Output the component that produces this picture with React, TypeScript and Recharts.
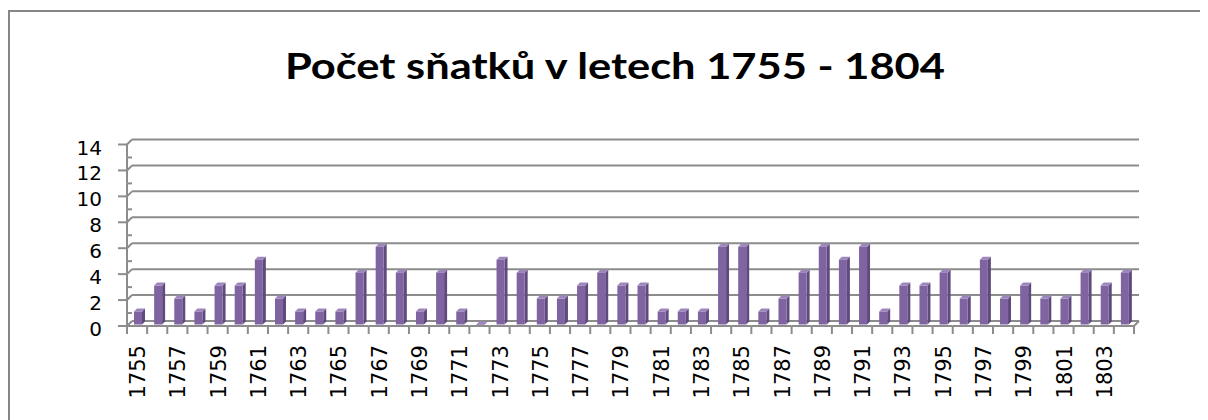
import React from 'react';
import { BarChart, Bar, XAxis, YAxis, CartesianGrid } from 'recharts';

const years = [
  '1755', '1756', '1757', '1758', '1759', '1760', '1761', '1762', '1763', '1764',
  '1765', '1766', '1767', '1768', '1769', '1770', '1771', '1772', '1773', '1774',
  '1775', '1776', '1777', '1778', '1779', '1780', '1781', '1782', '1783', '1784',
  '1785', '1786', '1787', '1788', '1789', '1790', '1791', '1792', '1793', '1794',
  '1795', '1796', '1797', '1798', '1799', '1800', '1801', '1802', '1803', '1804',
];

const marriages = [
  1, 3, 2, 1, 3, 3, 5, 2, 1, 1,
  1, 4, 6, 4, 1, 4, 1, 0, 5, 4,
  2, 2, 3, 4, 3, 3, 1, 1, 1, 6,
  6, 1, 2, 4, 6, 5, 6, 1, 3, 3,
  4, 2, 5, 2, 3, 2, 2, 4, 3, 4,
];

const yTicks = [0, 1, 2, 3, 4, 5, 6, 7, 8, 9, 10, 11, 12, 13, 14];
const gridValues = [0, 2, 4, 6, 8, 10, 12, 14];
const title = 'Počet sňatků v letech 1755 - 1804';

const data = years.map((year, i) => ({ year, value: marriages[i] }));

// layout (container coords)
const W = 1200;
const H = 412;
const PLOT_LEFT = 124;
const PLOT_RIGHT = 1131;
const PLOT_TOP = 131.5;
const PLOT_BOTTOM = 313;
const STEP = (PLOT_RIGHT - PLOT_LEFT) / years.length;
const UNIT = (PLOT_BOTTOM - PLOT_TOP) / 14;
const DEPTH = 5; // front plane offset
const AXIS = '#8c8c8c';
const D = 3;

const Bar3D = (props: any) => {
  const { x, y, width, height } = props;
  if (x == null || y == null) return null;
  const h = Math.max(height, 0.5);
  return (
    <g transform="translate(-4, 3.5)">
      <polygon
        points={`${x + width},${y} ${x + width + D},${y - D} ${x + width + D},${y + h - D} ${x + width},${y + h}`}
        fill="#5e4a7c"
      />
      <polygon
        points={`${x},${y} ${x + D},${y - D} ${x + width + D},${y - D} ${x + width},${y}`}
        fill="#9d86bd"
      />
      <rect x={x} y={y} width={width} height={h} fill="#8064a2" />
    </g>
  );
};

const XTick = (props: any) => {
  const { x, payload, index } = props;
  const fy = PLOT_BOTTOM + DEPTH;
  const left = x - STEP / 2 - DEPTH;
  const right = x + STEP / 2 - DEPTH;
  const last = index === years.length - 1;
  const lx = x - 4;
  const ly = PLOT_BOTTOM + 24;
  return (
    <g>
      <line x1={left} y1={fy} x2={right} y2={fy} stroke={AXIS} strokeWidth={2} />
      <line x1={left} y1={fy} x2={left} y2={fy + 8} stroke={AXIS} strokeWidth={2} />
      {last && (
        <>
          <line x1={right} y1={fy} x2={right} y2={fy + 8} stroke={AXIS} strokeWidth={2} />
          <line x1={right} y1={fy} x2={right + DEPTH} y2={fy - DEPTH} stroke={AXIS} strokeWidth={2} />
        </>
      )}
      {index % 2 === 0 && (
        <text
          x={lx}
          y={ly}
          transform={`rotate(-90, ${lx}, ${ly})`}
          textAnchor="end"
          dominantBaseline="central"
          fontFamily="DejaVu Sans"
          fontSize={21}
          fill="#000"
        >
          {payload.value}
        </text>
      )}
    </g>
  );
};

const YTick = (props: any) => {
  const { y, payload } = props;
  const major = payload.value % 2 === 0;
  const ax = PLOT_LEFT - DEPTH;
  const fy = y + DEPTH;
  return (
    <g>
      {payload.value < 14 ? null : null}
      {payload.value > 0 && (
        <line x1={ax} y1={fy} x2={ax} y2={fy + UNIT} stroke={AXIS} strokeWidth={2} />
      )}
      {major ? (
        <>
          <line x1={ax - 9} y1={fy} x2={ax} y2={fy} stroke={AXIS} strokeWidth={2} />
          <line x1={ax} y1={fy} x2={PLOT_LEFT} y2={y} stroke={AXIS} strokeWidth={2} />
          <text
            x={94}
            y={fy + 3}
            textAnchor="end"
            dominantBaseline="central"
            fontFamily="DejaVu Sans"
            fontSize={20}
            fill="#000"
          >
            {payload.value}
          </text>
        </>
      ) : (
        <line x1={ax} y1={fy} x2={ax + 5} y2={fy} stroke={AXIS} strokeWidth={2} />
      )}
    </g>
  );
};

export default function App() {
  return (
    <div style={{ position: 'relative', width: W, height: H, overflow: 'hidden' }}>
      <div
        style={{
          position: 'absolute',
          left: 0,
          top: 2,
          width: 1300,
          height: 500,
          borderTop: '2px solid #868686',
          borderLeft: '2px solid #868686',
        }}
      />
      <svg style={{ position: 'absolute', left: 0, top: 0 }} width={W} height={120}>
        <text
          x={277}
          y={71}
          textLength={660}
          lengthAdjust="spacingAndGlyphs"
          fontFamily="Lato"
          fontWeight={700}
          fontSize={37}
          fill="#000"
        >
          {title}
        </text>
      </svg>
      <div style={{ position: 'absolute', left: 0, top: 0 }}>
        <BarChart
          width={W}
          height={H}
          data={data}
          margin={{ top: PLOT_TOP, right: W - PLOT_RIGHT, bottom: H - PLOT_BOTTOM - 90, left: PLOT_LEFT - 60 }}
          barCategoryGap={0}
        >
          <CartesianGrid
            horizontal
            vertical={false}
            horizontalValues={gridValues}
            stroke={AXIS}
            strokeWidth={2}
          />
          <XAxis
            dataKey="year"
            interval={0}
            tick={<XTick />}
            tickLine={false}
            axisLine={false}
            height={90}
          />
          <YAxis
            domain={[0, 14]}
            ticks={yTicks}
            interval={0}
            tick={<YTick />}
            tickLine={false}
            axisLine={false}
            width={60}
          />
          <Bar dataKey="value" barSize={8} shape={<Bar3D />} isAnimationActive={false} />
        </BarChart>
      </div>
    </div>
  );
}
